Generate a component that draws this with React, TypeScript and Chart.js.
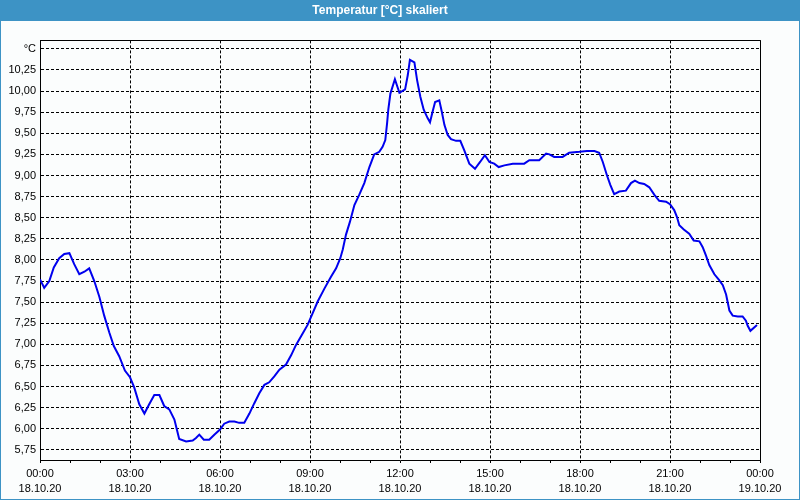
import React, { useEffect, useRef } from "react";
import { Chart, registerables } from "chart.js";

Chart.register(...registerables);

const chartTitle = "Temperatur [°C] skaliert";

const timeHours = [
  0.0, 0.14, 0.31, 0.46, 0.64, 0.81, 0.98, 1.14, 1.31, 1.48, 1.64, 1.81, 1.98, 2.14, 2.31, 2.46, 2.64, 2.83,
  3.0, 3.14, 3.31, 3.48, 3.64, 3.81, 3.98, 4.14, 4.31, 4.48, 4.64, 4.87, 5.09, 5.2, 5.31, 5.46, 5.64, 5.81,
  6.0, 6.14, 6.31, 6.48, 6.64, 6.81, 6.98, 7.14, 7.31, 7.48, 7.64, 7.81, 7.98, 8.2, 8.37, 8.53, 8.76, 8.92,
  9.09, 9.26, 9.48, 9.7, 9.87, 10.01, 10.09, 10.2, 10.33, 10.48, 10.64, 10.81, 10.98, 11.14, 11.31, 11.42,
  11.51, 11.57, 11.61, 11.68, 11.83, 11.98, 12.17, 12.26, 12.33, 12.48, 12.57, 12.68, 12.79, 12.92, 13.0,
  13.09, 13.17, 13.31, 13.39, 13.48, 13.59, 13.7, 13.87, 14.01, 14.14, 14.31, 14.5, 14.67, 14.83, 14.98,
  15.14, 15.29, 15.48, 15.76, 16.14, 16.31, 16.64, 16.87, 16.98, 17.14, 17.42, 17.64, 17.98, 18.23, 18.48,
  18.64, 18.76, 18.9, 19.01, 19.14, 19.31, 19.53, 19.7, 19.83, 19.98, 20.14, 20.31, 20.48, 20.64, 20.87,
  21.0, 21.14, 21.23, 21.31, 21.46, 21.64, 21.79, 21.98, 22.09, 22.2, 22.31, 22.48, 22.64, 22.76, 22.87,
  22.98, 23.09, 23.26, 23.42, 23.53, 23.59, 23.68, 23.9,
];

const temperature = [
  7.77, 7.67, 7.75, 7.91, 8.02, 8.07, 8.08, 7.95, 7.83, 7.86, 7.9, 7.75, 7.56, 7.34, 7.14, 6.98, 6.86, 6.69,
  6.61, 6.49, 6.29, 6.18, 6.29, 6.4, 6.4, 6.27, 6.23, 6.11, 5.88, 5.85, 5.86, 5.89, 5.93, 5.87, 5.87, 5.93,
  5.99, 6.06, 6.085, 6.085, 6.07, 6.07, 6.18, 6.3, 6.42, 6.52, 6.55, 6.62, 6.7, 6.76, 6.87, 6.99, 7.13, 7.23,
  7.37, 7.51, 7.66, 7.8, 7.9, 8.02, 8.12, 8.3, 8.45, 8.65, 8.77, 8.91, 9.1, 9.25, 9.28, 9.34,
  9.42, 9.62, 9.78, 9.97, 10.14, 9.98, 10.02, 10.19, 10.37, 10.34, 10.13, 9.93, 9.78, 9.68, 9.63,
  9.76, 9.87, 9.89, 9.76, 9.6, 9.48, 9.43, 9.41, 9.41, 9.3, 9.14, 9.08, 9.16, 9.24, 9.16,
  9.14, 9.1, 9.12, 9.14, 9.14, 9.18, 9.18, 9.26, 9.25, 9.22, 9.22, 9.27, 9.28, 9.29, 9.29,
  9.27, 9.16, 9.0, 8.89, 8.78, 8.81, 8.82, 8.91, 8.94, 8.91, 8.9, 8.86, 8.77, 8.7, 8.69,
  8.66, 8.59, 8.51, 8.41, 8.36, 8.31, 8.23, 8.22, 8.15, 8.05, 7.94, 7.83, 7.76, 7.7, 7.59,
  7.4, 7.34, 7.33, 7.33, 7.28, 7.22, 7.16, 7.23,
];

const xTickHours = [0, 3, 6, 9, 12, 15, 18, 21, 24];
const xTickTimes = ["00:00", "03:00", "06:00", "09:00", "12:00", "15:00", "18:00", "21:00", "00:00"];
const xTickDates = ["18.10.20", "18.10.20", "18.10.20", "18.10.20", "18.10.20", "18.10.20", "18.10.20", "18.10.20", "19.10.20"];
const xMinorHours = Array.from({ length: 25 }, (_, i) => i);

const yTickValues = [5.75, 6.0, 6.25, 6.5, 6.75, 7.0, 7.25, 7.5, 7.75, 8.0, 8.25, 8.5, 8.75, 9.0, 9.25, 9.5, 9.75, 10.0, 10.25, 10.5];
const yUnitLabel = "°C";
const yUnitTick = 10.5;

const FONT = "'Liberation Sans', Arial, sans-serif";
const BAR_BLUE = "#3d93c5";
const BG = "#fbfdfd";

const framePlugin = {
  id: "framePlugin",
  beforeDraw(chart: any) {
    const { ctx, width, height } = chart;
    ctx.save();
    ctx.fillStyle = BG;
    ctx.fillRect(0, 0, width, height);
    ctx.fillStyle = BAR_BLUE;
    ctx.fillRect(0, 0, width, 21);
    ctx.strokeStyle = BAR_BLUE;
    ctx.lineWidth = 1;
    ctx.strokeRect(0.5, 0.5, width - 1, height - 1);
    ctx.restore();
  },
  beforeDatasetsDraw(chart: any) {
    const { ctx, chartArea } = chart;
    ctx.save();
    ctx.strokeStyle = "#000";
    ctx.lineWidth = 1;
    const l = Math.round(chartArea.left) + 0.5;
    const t = Math.round(chartArea.top) + 0.5;
    const r = Math.round(chartArea.right) + 0.5;
    const b = Math.round(chartArea.bottom) + 0.5;
    ctx.beginPath();
    ctx.moveTo(l, t);
    ctx.lineTo(r, t);
    ctx.lineTo(r, b);
    ctx.stroke();
    ctx.restore();
  },
};

export default function App() {
  const canvasRef = useRef<HTMLCanvasElement | null>(null);

  useEffect(() => {
    const canvas = canvasRef.current;
    if (!canvas) return;
    const points = timeHours.map((h, i) => ({ x: h, y: temperature[i] }));
    const chart = new Chart(canvas, {
      type: "line",
      data: {
        datasets: [
          {
            label: chartTitle,
            data: points,
            borderColor: "#0000ee",
            borderWidth: 2,
            pointRadius: 0,
            tension: 0,
            fill: false,
          },
        ],
      },
      options: {
        animation: false,
        responsive: false,
        devicePixelRatio: 1,
        layout: { padding: { left: 0, right: 40, top: 0, bottom: 0 } },
        plugins: {
          legend: { display: false },
          tooltip: { enabled: false },
          title: {
            display: true,
            text: chartTitle,
            color: "#ffffff",
            font: { family: FONT, size: 12, weight: "bold", lineHeight: 1.2 },
            padding: { top: 3, bottom: 23 },
          },
        },
        scales: {
          x: {
            type: "linear",
            min: 0,
            max: 24,
            afterBuildTicks: (s: any) => {
              s.ticks = xMinorHours.map((v) => ({ value: v }));
            },
            afterFit: (s: any) => {
              s.height = 40;
            },
            ticks: {
              autoSkip: false,
              maxRotation: 0,
              minRotation: 0,
              padding: 4,
              color: "#000",
              font: { family: FONT, size: 11, lineHeight: 1.35 },
              callback: (value: any) => {
                const idx = xTickHours.indexOf(Number(value));
                return idx >= 0 ? [xTickTimes[idx], xTickDates[idx]] : "";
              },
            },
            grid: {
              color: (c: any) => (c.tick && c.tick.value % 3 === 0 ? "#000" : "rgba(0,0,0,0)"),
              lineWidth: 1,
              drawTicks: true,
              tickLength: 3,
              tickColor: "#000",
              tickWidth: 1,
            },
            border: { display: true, color: "#000", width: 1, dash: [3, 2] },
          },
          y: {
            type: "linear",
            min: 5.63,
            max: 10.6,
            afterBuildTicks: (s: any) => {
              s.ticks = yTickValues.map((v) => ({ value: v }));
            },
            afterFit: (s: any) => {
              s.width = 40;
            },
            ticks: {
              autoSkip: false,
              padding: 4,
              color: "#000",
              font: { family: FONT, size: 11 },
              callback: (value: any) => {
                const v = Number(value);
                if (Math.abs(v - yUnitTick) < 1e-6) return yUnitLabel;
                return v.toFixed(2).replace(".", ",");
              },
            },
            grid: {
              color: "#000",
              lineWidth: 1,
              drawTicks: false,
            },
            border: { display: true, color: "#000", width: 1, dash: [3, 2] },
          },
        },
      },
      plugins: [framePlugin],
    });
    return () => chart.destroy();
  }, []);

  return (
    <div style={{ position: "fixed", left: 0, top: 0, width: 800, height: 500 }}>
      <canvas ref={canvasRef} width={800} height={500} style={{ display: "block" }} />
    </div>
  );
}
